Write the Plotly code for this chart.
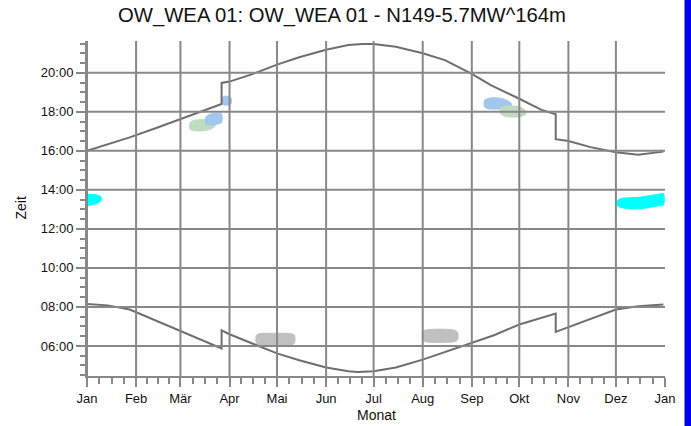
import pandas as pd
import plotly.graph_objects as go

YEAR = 2023

# Axis labels
MONTH_LABELS = ["Jan", "Feb", "Mär", "Apr", "Mai", "Jun", "Jul", "Aug",
                "Sep", "Okt", "Nov", "Dez", "Jan"]
TIME_TICKS = [6, 8, 10, 12, 14, 16, 18, 20]
TIME_LABELS = ["06:00", "08:00", "10:00", "12:00", "14:00", "16:00", "18:00", "20:00"]

# Sunset limit (decimal hours, local clock time incl. DST jumps)
SUNSET_DATES = ["01-01", "01-15", "01-28", "02-15", "03-01", "03-15", "03-27", "03-27",
                "04-01", "04-15", "05-01", "05-15", "06-01", "06-15", "06-24", "07-01",
                "07-15", "08-01", "08-15", "09-01", "09-13", "10-01", "10-15", "10-24",
                "10-24", "11-01", "11-15", "12-01", "12-15", "12-31"]
SUNSET_HOURS = [16.00, 16.35, 16.69, 17.21, 17.63, 18.06, 18.40, 19.48,
                19.55, 19.92, 20.42, 20.80, 21.18, 21.42, 21.48, 21.47,
                21.34, 21.00, 20.65, 19.95, 19.37, 18.67, 18.10, 17.88,
                16.60, 16.50, 16.19, 15.93, 15.80, 15.96]

# Sunrise limit
SUNRISE_DATES = ["01-01", "01-14", "01-28", "02-15", "03-01", "03-15", "03-27", "03-27",
                 "04-01", "04-15", "05-01", "05-15", "06-01", "06-15", "06-21", "07-01",
                 "07-15", "08-01", "08-15", "09-01", "09-15", "10-01", "10-15", "10-24",
                 "10-24", "11-01", "11-15", "12-01", "12-15", "12-31"]
SUNRISE_HOURS = [8.15, 8.08, 7.87, 7.24, 6.75, 6.26, 5.87, 6.80,
                 6.60, 6.14, 5.62, 5.27, 4.90, 4.70, 4.66, 4.70,
                 4.90, 5.30, 5.68, 6.15, 6.55, 7.10, 7.45, 7.66,
                 6.72, 6.96, 7.37, 7.87, 8.03, 8.12]

# Shadow periods: dates, begin (decimal h), end (decimal h)
CYAN_JAN_DATES = ["01-01", "01-04", "01-07", "01-09", "01-10"]
CYAN_JAN_FROM = [13.22, 13.24, 13.30, 13.38, 13.48]
CYAN_JAN_TO = [13.76, 13.76, 13.74, 13.70, 13.60]

CYAN_DEC_DATES = ["12-02", "12-04", "12-10", "12-16", "12-22", "12-28", "12-31"]
CYAN_DEC_FROM = [13.18, 13.10, 13.03, 13.03, 13.10, 13.18, 13.22]
CYAN_DEC_TO = [13.45, 13.55, 13.60, 13.62, 13.70, 13.78, 13.80]

GREEN_MAR_DATES = ["03-07", "03-09", "03-13", "03-18", "03-21", "03-23"]
GREEN_MAR_FROM = [17.12, 17.04, 17.02, 17.06, 17.15, 17.28]
GREEN_MAR_TO = [17.42, 17.55, 17.60, 17.62, 17.60, 17.50]

BLUE_MAR_DATES = ["03-17", "03-19", "03-22", "03-25", "03-27"]
BLUE_MAR_FROM = [17.38, 17.32, 17.33, 17.38, 17.45]
BLUE_MAR_TO = [17.72, 17.85, 17.92, 17.93, 17.90]

BLUE_APR_DATES = ["03-28", "03-30", "04-01", "04-02"]
BLUE_APR_FROM = [18.36, 18.34, 18.36, 18.42]
BLUE_APR_TO = [18.78, 18.80, 18.78, 18.70]

BLUE_SEP_DATES = ["09-09", "09-11", "09-15", "09-20", "09-24", "09-26"]
BLUE_SEP_FROM = [18.25, 18.16, 18.14, 18.15, 18.20, 18.26]
BLUE_SEP_TO = [18.58, 18.68, 18.72, 18.68, 18.55, 18.42]

GREEN_SEP_DATES = ["09-19", "09-21", "09-25", "09-30", "10-03", "10-05"]
GREEN_SEP_FROM = [17.92, 17.80, 17.74, 17.74, 17.78, 17.86]
GREEN_SEP_TO = [18.20, 18.27, 18.30, 18.28, 18.18, 18.05]

GRAY_MAY_DATES = ["04-18", "04-20", "04-26", "05-04", "05-10", "05-12"]
GRAY_MAY_FROM = [6.15, 6.05, 6.03, 6.03, 6.05, 6.15]
GRAY_MAY_TO = [6.55, 6.63, 6.65, 6.65, 6.63, 6.55]

GRAY_AUG_DATES = ["08-01", "08-03", "08-10", "08-17", "08-21", "08-23"]
GRAY_AUG_FROM = [6.32, 6.21, 6.18, 6.19, 6.22, 6.32]
GRAY_AUG_TO = [6.74, 6.82, 6.86, 6.85, 6.80, 6.70]

CYAN = "#00FFFF"
BLUE = "#A3C6EC"
GREEN = "#C0DCC0"
GRAY = "#C0C0C0"
LINE_GRAY = "#6e6e6e"
GRID_GRAY = "#888888"


def day(md):
    return f"{YEAR}-{md}"


month_starts = list(pd.date_range(f"{YEAR}-01-01", periods=13, freq="MS"))
minor_x = []
for a, b in zip(month_starts[:-1], month_starts[1:]):
    for k in (1, 2, 3):
        minor_x.append(a + (b - a) * k / 4)

fig = go.Figure()


def add_period(dates, t_from, t_to, color):
    xs = [day(m) for m in dates] + [day(m) for m in reversed(dates)]
    ys = list(t_to) + list(reversed(t_from))
    xs.append(xs[0])
    ys.append(ys[0])
    fig.add_trace(go.Scatter(
        x=xs, y=ys, mode="lines", fill="toself", fillcolor=color,
        line=dict(color=color, width=1, shape="spline", smoothing=0.8),
        hoverinfo="skip"))


add_period(CYAN_JAN_DATES, CYAN_JAN_FROM, CYAN_JAN_TO, CYAN)
add_period(CYAN_DEC_DATES, CYAN_DEC_FROM, CYAN_DEC_TO, CYAN)
add_period(GREEN_MAR_DATES, GREEN_MAR_FROM, GREEN_MAR_TO, GREEN)
add_period(BLUE_MAR_DATES, BLUE_MAR_FROM, BLUE_MAR_TO, BLUE)
add_period(BLUE_APR_DATES, BLUE_APR_FROM, BLUE_APR_TO, BLUE)
add_period(BLUE_SEP_DATES, BLUE_SEP_FROM, BLUE_SEP_TO, BLUE)
add_period(GREEN_SEP_DATES, GREEN_SEP_FROM, GREEN_SEP_TO, GREEN)
add_period(GRAY_MAY_DATES, GRAY_MAY_FROM, GRAY_MAY_TO, GRAY)
add_period(GRAY_AUG_DATES, GRAY_AUG_FROM, GRAY_AUG_TO, GRAY)

for dates, hours in ((SUNSET_DATES, SUNSET_HOURS), (SUNRISE_DATES, SUNRISE_HOURS)):
    fig.add_trace(go.Scatter(
        x=[day(m) for m in dates], y=hours, mode="lines",
        line=dict(color=LINE_GRAY, width=2), hoverinfo="skip"))

# Grid drawn on top of the shadow periods
shapes = []
for m in month_starts[:-1]:
    shapes.append(dict(type="line", xref="x", yref="paper", x0=m, x1=m, y0=0, y1=1,
                       line=dict(color=GRID_GRAY, width=2), layer="above"))
for h in TIME_TICKS:
    shapes.append(dict(type="line", xref="paper", yref="y", x0=0, x1=1, y0=h, y1=h,
                       line=dict(color=GRID_GRAY, width=2), layer="above"))
# Blue frame strip at the right page edge
shapes.append(dict(type="rect", xref="paper", yref="paper",
                   x0=(684.5 - 87) / 578, x1=(693 - 87) / 578, y0=-0.2, y1=1.2,
                   fillcolor="#0000F0", line=dict(width=0), layer="above"))

axis_common = dict(
    ticks="outside", ticklen=9, tickwidth=2, tickcolor=GRID_GRAY,
    showline=True, linecolor=GRID_GRAY, linewidth=2,
    showgrid=False, zeroline=False, fixedrange=True,
    tickfont=dict(size=13, color="#111111"),
)

fig.update_layout(
    width=691, height=426,
    margin=dict(l=87, r=26, t=41, b=50),
    paper_bgcolor="white", plot_bgcolor="white",
    showlegend=False,
    font=dict(family="Liberation Sans, Arial, sans-serif", color="#111111"),
    title=dict(text="OW_WEA 01: OW_WEA 01 - N149-5.7MW^164m",
               x=342 / 691, xref="container", xanchor="center",
               y=1 - 15 / 426, yref="container", yanchor="middle",
               font=dict(size=20.3, color="#111111")),
    xaxis=dict(
        type="date", range=[f"{YEAR}-01-01", f"{YEAR + 1}-01-01"],
        tickmode="array", tickvals=month_starts, ticktext=MONTH_LABELS,
        minor=dict(tickmode="array", tickvals=minor_x, ticks="outside", ticklen=6,
                   tickwidth=1.5, tickcolor=GRID_GRAY, showgrid=False),
        **axis_common),
    yaxis=dict(
        range=[4.46, 21.63],
        tickmode="array", tickvals=TIME_TICKS, ticktext=TIME_LABELS,
        minor=dict(tickmode="linear", tick0=0, dtick=0.5, ticks="outside", ticklen=5,
                   tickwidth=1.5, tickcolor=GRID_GRAY, showgrid=False),
        **axis_common),
    shapes=shapes,
    annotations=[
        dict(text="Zeit", xref="paper", yref="paper", x=(20 - 87) / 578, y=0.5,
             xanchor="center", yanchor="middle", textangle=-90, showarrow=False,
             font=dict(size=14, color="#111111")),
        dict(text="Monat", xref="paper", yref="paper", x=0.5, y=(376 - 415) / 335,
             xanchor="center", yanchor="middle", showarrow=False,
             font=dict(size=14, color="#111111")),
    ],
)

fig.write_html("out.html", config={"displayModeBar": False})
